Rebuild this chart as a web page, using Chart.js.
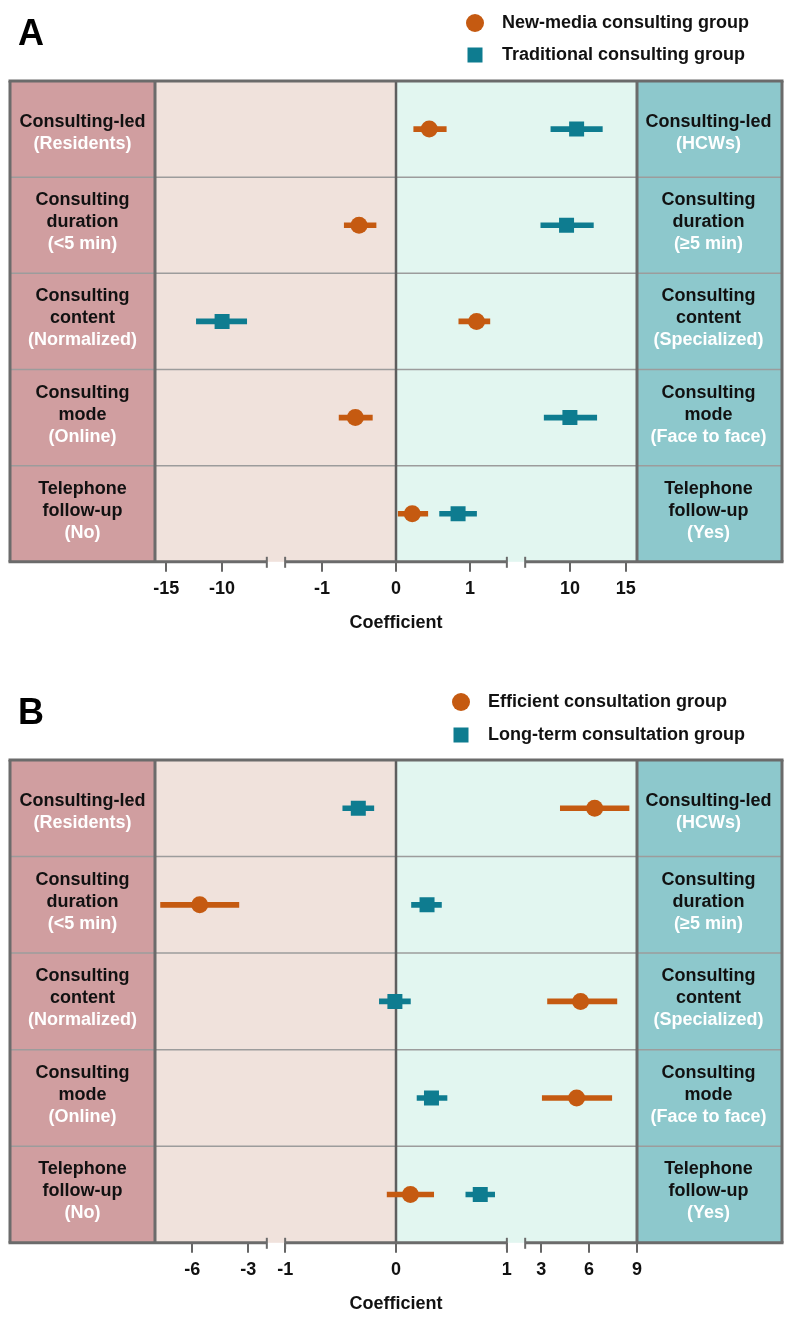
<!DOCTYPE html>
<html>
<head>
<meta charset="utf-8">
<script src="https://cdn.jsdelivr.net/npm/chart.js@4.4.1/dist/chart.umd.min.js"></script>
<style>
  body { margin: 0; background: #fff; }
  canvas { display: block; }
</style>
</head>
<body>
<canvas id="chartA" width="793" height="660"></canvas>
<canvas id="chartB" width="793" height="661"></canvas>
<script>
// rows, top to bottom
const rowKeys = ["led", "duration", "content", "mode", "phone"];
const leftLabels = [
  ["Consulting-led", "(Residents)"],
  ["Consulting", "duration", "(<5 min)"],
  ["Consulting", "content", "(Normalized)"],
  ["Consulting", "mode", "(Online)"],
  ["Telephone", "follow-up", "(No)"]
];
const rightLabels = [
  ["Consulting-led", "(HCWs)"],
  ["Consulting", "duration", "(\u22655 min)"],
  ["Consulting", "content", "(Specialized)"],
  ["Consulting", "mode", "(Face to face)"],
  ["Telephone", "follow-up", "(Yes)"]
];

// panel A
const aGroups = ["New-media consulting group", "Traditional consulting group"];
const aNewEst  = [0.45, -0.50, 1.09, -0.55, 0.22];
const aNewLow  = [0.24, -0.70, 0.85, -0.77, 0.03];
const aNewHigh = [0.68, -0.27, 1.27, -0.32, 0.43];
const aTradEst  = [10.6, 9.7, -10.0, 10.0, 0.84];
const aTradLow  = [8.3, 7.4, -12.3, 7.7, 0.59];
const aTradHigh = [12.9, 12.1, -7.8, 12.4, 1.09];
const aTicks = [-15, -10, -1, 0, 1, 10, 15];
const aRanges = [[-16, -6], [-1.5, 1.5], [6, 16]];

// panel B
const bGroups = ["Efficient consultation group", "Long-term consultation group"];
const bEffEst  = [6.35, -5.6, 5.47, 5.22, 0.13];
const bEffLow  = [4.2, -7.7, 3.4, 3.07, -0.08];
const bEffHigh = [8.5, -3.5, 7.74, 7.42, 0.34];
const bLongEst  = [-0.34, 0.28, -0.01, 0.32, 0.76];
const bLongLow  = [-0.48, 0.14, -0.15, 0.19, 0.63];
const bLongHigh = [-0.20, 0.41, 0.13, 0.46, 0.89];
const bTicks = [-6, -3, -1, 0, 1, 3, 6, 9];
const bRanges = [[-8, -2], [-1, 1], [2, 9]];

const ORANGE = "#C55A11";
const TEAL = "#0E7C90";
const FONT = '"Liberation Sans", Arial, sans-serif';
Chart.defaults.font.family = FONT;

// share of the axis width given to each range (the rest are the breaks)
const spans = [[0, 0.232], [0.27, 0.73], [0.768, 1]];

// linear scale cut into pieces, like a broken axis
class BrokenScale extends Chart.LinearScale {
  static id = "broken";
  static defaults = Chart.LinearScale.defaults;
  _frac(v) {
    const r = this.options.ranges;
    if (v <= r[0][0]) return spans[0][0];
    for (let i = 0; i < r.length; i++) {
      if (v <= r[i][1]) {
        if (v >= r[i][0]) {
          return spans[i][0] + (v - r[i][0]) / (r[i][1] - r[i][0]) * (spans[i][1] - spans[i][0]);
        }
        return spans[i - 1][1] + (v - r[i - 1][1]) / (r[i][0] - r[i - 1][1]) * (spans[i][0] - spans[i - 1][1]);
      }
    }
    return spans[spans.length - 1][1];
  }
  getPixelForValue(v) {
    return this.getPixelForDecimal(this._frac(v));
  }
  getValueForPixel(p) {
    const d = this.getDecimalForPixel(p);
    const r = this.options.ranges;
    for (let i = 0; i < r.length; i++) {
      if (d <= spans[i][1]) {
        const t = Math.max(0, (d - spans[i][0]) / (spans[i][1] - spans[i][0]));
        return r[i][0] + t * (r[i][1] - r[i][0]);
      }
    }
    return r[r.length - 1][1];
  }
}
Chart.register(BrokenScale);

function hline(ctx, x1, x2, y) {
  ctx.beginPath(); ctx.moveTo(x1, y); ctx.lineTo(x2, y); ctx.stroke();
}
function vline(ctx, x, y1, y2) {
  ctx.beginPath(); ctx.moveTo(x, y1); ctx.lineTo(x, y2); ctx.stroke();
}

function drawLabel(ctx, lines, cx, cy) {
  const lh = 22;
  // two-line labels sit a bit lower than three-line ones
  let y = cy + (lines.length === 2 ? 4 : -3) - (lines.length - 1) * lh / 2;
  lines.forEach((t, i) => {
    ctx.fillStyle = i === lines.length - 1 ? "#ffffff" : "#111111";
    ctx.fillText(t, cx, y);
    y += lh;
  });
}

const panelDecor = {
  id: "panelDecor",
  beforeDatasetsDraw(chart, args, o) {
    const { ctx, chartArea: a, scales: { x, y } } = chart;
    const x0 = x.getPixelForValue(0);
    const band = y.getPixelForValue(1) - y.getPixelForValue(0);
    const L = o.boxLeft, R = o.boxRight;
    ctx.save();
    ctx.fillStyle = "#D09EA0"; ctx.fillRect(L, a.top, a.left - L, a.height);
    ctx.fillStyle = "#8DC8CC"; ctx.fillRect(a.right, a.top, R - a.right, a.height);
    ctx.fillStyle = "#F0E2DC"; ctx.fillRect(a.left, a.top, x0 - a.left, a.height);
    ctx.fillStyle = "#E2F6F0"; ctx.fillRect(x0, a.top, a.right - x0, a.height);

    // row separators
    ctx.strokeStyle = "#9C9C9C"; ctx.lineWidth = 1.5;
    for (let i = 1; i < rowKeys.length; i++) {
      hline(ctx, L, R, y.getPixelForValue(i) - band / 2);
    }
    // zero line
    ctx.strokeStyle = "#5E5E5E"; ctx.lineWidth = 2.5;
    vline(ctx, x0, a.top, a.bottom);

    // frame
    ctx.strokeStyle = "#6B6B6B"; ctx.lineWidth = 3;
    hline(ctx, L - 1.5, R + 1.5, a.top);
    vline(ctx, L, a.top, a.bottom);
    vline(ctx, R, a.top, a.bottom);
    vline(ctx, a.left, a.top, a.bottom);
    vline(ctx, a.right, a.top, a.bottom);
    // bottom line, cut at the axis breaks
    const r = x.options.ranges;
    hline(ctx, L - 1.5, x.getPixelForValue(r[0][1]), a.bottom);
    for (let i = 1; i < r.length - 1; i++) {
      hline(ctx, x.getPixelForValue(r[i][0]), x.getPixelForValue(r[i][1]), a.bottom);
    }
    hline(ctx, x.getPixelForValue(r[r.length - 1][0]), R + 1.5, a.bottom);
    ctx.lineWidth = 2;
    for (let i = 0; i < r.length; i++) {
      if (i > 0) vline(ctx, x.getPixelForValue(r[i][0]), a.bottom - 5, a.bottom + 6);
      if (i < r.length - 1) vline(ctx, x.getPixelForValue(r[i][1]), a.bottom - 5, a.bottom + 6);
    }

    // row labels
    ctx.font = "bold 18px " + FONT;
    ctx.textAlign = "center";
    ctx.textBaseline = "middle";
    rowKeys.forEach((k, i) => {
      const cy = y.getPixelForValue(i);
      drawLabel(ctx, leftLabels[i], (L + a.left) / 2, cy);
      drawLabel(ctx, rightLabels[i], (a.right + R) / 2 - 1, cy);
    });
    ctx.restore();
  },
  afterDraw(chart, args, o) {
    const ctx = chart.ctx;
    ctx.save();
    ctx.fillStyle = "#000";
    ctx.font = "bold 36px " + FONT;
    ctx.textAlign = "left";
    ctx.textBaseline = "alphabetic";
    ctx.fillText(o.letter, 18, o.letterY);

    // legend
    ctx.font = "bold 18px " + FONT;
    ctx.textBaseline = "middle";
    const ds = chart.data.datasets;
    [0, 1].forEach(i => {
      const yy = o.legendY[i];
      ctx.fillStyle = ds[i].backgroundColor;
      if (ds[i].pointStyle === "circle") {
        ctx.beginPath(); ctx.arc(o.legendX, yy, 9, 0, Math.PI * 2); ctx.fill();
      } else {
        ctx.fillRect(o.legendX - 7.5, yy - 7.5, 15, 15);
      }
      ctx.fillStyle = "#111";
      ctx.fillText(ds[i].label, o.legendTextX, yy);
    });
    ctx.restore();
  }
};

function makePanel(id, groups, est1, low1, high1, est2, low2, high2, ticks, ranges, pad, deco) {
  const pts = est => est.map((v, i) => ({ x: v, y: rowKeys[i] }));
  const cis = (lo, hi) => lo.map((v, i) => [v, hi[i]]);
  return new Chart(document.getElementById(id), {
    type: "bar",
    data: {
      labels: rowKeys,
      datasets: [
        { type: "line", label: groups[0], data: pts(est1), showLine: false, pointStyle: "circle",
          pointRadius: 8.5, backgroundColor: ORANGE, borderColor: ORANGE, borderWidth: 0, order: 0 },
        { type: "line", label: groups[1], data: pts(est2), showLine: false, pointStyle: "rect",
          pointRadius: 10.6, backgroundColor: TEAL, borderColor: TEAL, borderWidth: 0, order: 0 },
        { label: groups[0] + " CI", data: cis(low1, high1), backgroundColor: ORANGE,
          barThickness: 5, grouped: false, borderWidth: 0, order: 1 },
        { label: groups[1] + " CI", data: cis(low2, high2), backgroundColor: TEAL,
          barThickness: 5, grouped: false, borderWidth: 0, order: 1 }
      ]
    },
    options: {
      indexAxis: "y",
      responsive: false,
      devicePixelRatio: 1,
      animation: false,
      events: [],
      layout: { padding: pad },
      scales: {
        x: {
          type: "broken",
          ranges: ranges,
          min: ranges[0][0],
          max: ranges[ranges.length - 1][1],
          afterBuildTicks: s => { s.ticks = ticks.map(v => ({ value: v })); },
          ticks: {
            autoSkip: false, maxRotation: 0, minRotation: 0, padding: 6,
            color: "#111", font: { size: 18, weight: "bold" },
            callback: v => String(v)
          },
          grid: { drawOnChartArea: false, drawTicks: true, tickLength: 10, color: "#666", lineWidth: 2 },
          border: { display: false },
          title: { display: true, text: "Coefficient", color: "#111",
                   font: { size: 18, weight: "bold" }, padding: { top: 7, bottom: 4 } }
        },
        y: { type: "category", display: false }
      },
      plugins: {
        legend: { display: false },
        tooltip: { enabled: false },
        panelDecor: deco
      }
    },
    plugins: [panelDecor]
  });
}

makePanel("chartA", aGroups, aNewEst, aNewLow, aNewHigh, aTradEst, aTradLow, aTradHigh,
  aTicks, aRanges, { left: 155, right: 156, top: 81, bottom: 22 },
  { boxLeft: 10, boxRight: 782, letter: "A", letterY: 45, legendX: 475, legendTextX: 502, legendY: [23, 55] });

makePanel("chartB", bGroups, bEffEst, bEffLow, bEffHigh, bLongEst, bLongLow, bLongHigh,
  bTicks, bRanges, { left: 155, right: 156, top: 100, bottom: 2 },
  { boxLeft: 10, boxRight: 782, letter: "B", letterY: 64, legendX: 461, legendTextX: 488, legendY: [42, 75] });
</script>
</body>
</html>
